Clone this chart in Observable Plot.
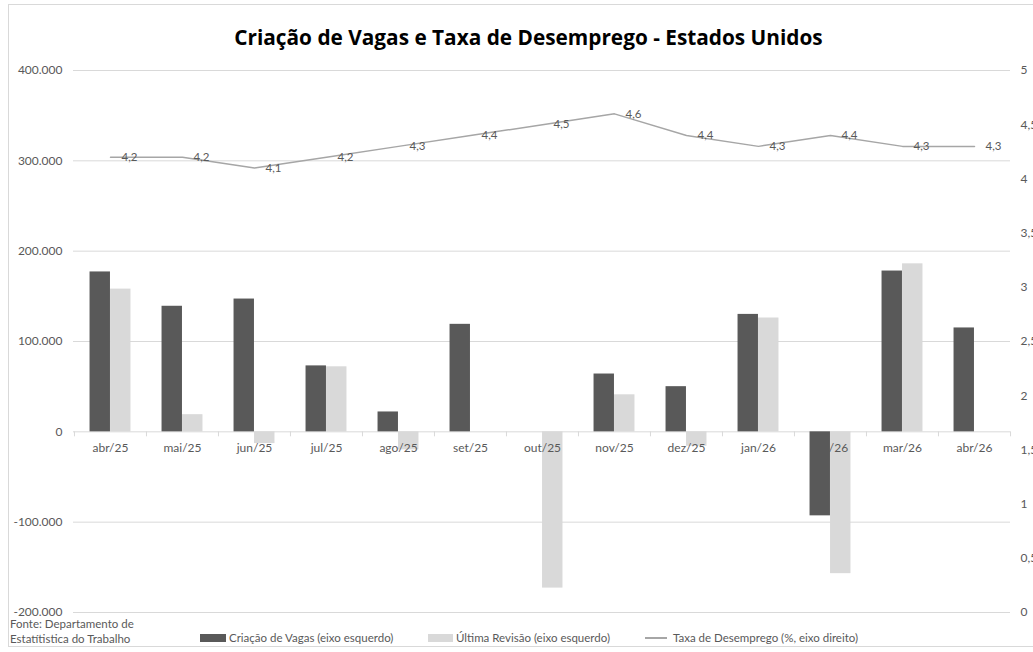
<!DOCTYPE html>
<html><head><meta charset="utf-8">
<script src="https://cdn.jsdelivr.net/npm/d3@7"></script>
<script src="https://cdn.jsdelivr.net/npm/@observablehq/plot@0.6"></script>
<style>
html,body{margin:0;padding:0;overflow:hidden;background:#fff;}
#wrap{position:relative;width:1033px;height:652px;overflow:hidden;font-family:Lato,"Open Sans",sans-serif;color:#595959;}
#border{position:absolute;left:8px;top:4px;width:1040px;height:643px;border:1px solid #d9d9d9;box-sizing:border-box;}
#title{position:absolute;left:12px;top:24px;width:1033px;text-align:center;font-family:"Open Sans",Lato,sans-serif;font-weight:bold;font-size:20.8px;color:#000;line-height:26px;}
#chart{position:absolute;left:0;top:0;}
#source{position:absolute;left:10px;top:616px;font-size:11.5px;line-height:15px;}
.leg{position:absolute;top:630px;font-size:11.5px;line-height:15px;white-space:nowrap;}
.sw{position:absolute;top:634px;height:8px;}
.ln{position:absolute;top:637px;height:1.5px;background:#a6a6a6;}
</style></head><body>
<div id="wrap">
  <div id="border"></div>
  <div id="chart"></div>
  <div id="title">Criação de Vagas e Taxa de Desemprego - Estados Unidos</div>
  <div id="source">Fonte: Departamento de<br>Estatítistica do Trabalho</div>
  <div class="sw" style="left:200px;width:26px;background:#595959"></div>
  <div class="leg" style="left:229px">Criação de Vagas (eixo esquerdo)</div>
  <div class="sw" style="left:428px;width:25px;background:#d9d9d9"></div>
  <div class="leg" style="left:456px">Última Revisão (eixo esquerdo)</div>
  <div class="ln" style="left:645px;width:22px"></div>
  <div class="leg" style="left:673px">Taxa de Desemprego (%, eixo direito)</div>
</div>
<script>
const months = ["abr/25","mai/25","jun/25","jul/25","ago/25","set/25","out/25","nov/25","dez/25","jan/26","fev/26","mar/26","abr/26"];
const criacao = [177000,139000,147000,73000,22000,119000,null,64000,50000,130000,-93000,178000,115000];
const revisao = [158000,19000,-13000,72000,-20000,null,-173000,41000,-16000,126000,-157000,186000,null];
const desemprego = [4.2,4.2,4.1,4.2,4.3,4.4,4.5,4.6,4.4,4.3,4.4,4.3,4.3];
const leftTicks = [-200000,-100000,0,100000,200000,300000,400000];
const rightTicks = [0,0.5,1,1.5,2,2.5,3,3.5,4,4.5,5];

const W = 1033, H = 652, mL = 73, mR = 23, mT = 70, mB = 40;
const bw = (W - mL - mR) / months.length;
const half = 20.5;
const toLeft = u => -200000 + u * 120000;
const fromLeft = v => Math.round(((v + 200000) / 120000) * 10) / 10;
const loc = d3.formatLocale({decimal: ",", thousands: ".", grouping: [3], currency: ["", ""], minus: "-"});
const fmtL = loc.format(",d");
const fmtR = v => String(v).replace(".", ",");
const idx = d3.range(months.length);

const chart = Plot.plot({
  width: W, height: H,
  marginLeft: mL, marginRight: mR, marginTop: mT, marginBottom: mB,
  style: {fontFamily: "Lato, 'Open Sans', sans-serif", fontSize: "12px", color: "#595959", background: "transparent"},
  x: {type: "band", domain: months, paddingInner: 0, paddingOuter: 0, axis: null},
  y: {domain: [-200000, 400000]},
  marks: [
    Plot.gridY(leftTicks, {stroke: "#d9d9d9", strokeOpacity: 1}),
    Plot.ruleX(months, {x: d => d, y1: 0, y2: -5500, dx: -bw / 2, stroke: "#d9d9d9"}),
    Plot.ruleX([months[months.length - 1]], {x: d => d, y1: 0, y2: -5500, dx: bw / 2, stroke: "#d9d9d9"}),
    Plot.barY(idx.filter(i => revisao[i] != null), {x: i => months[i], y: i => revisao[i], fill: "#d9d9d9", insetLeft: bw / 2, insetRight: bw / 2 - half}),
    Plot.text(months, {x: d => d, y: 0, dy: 16, text: d => d, fill: "#595959", fontSize: 12}),
    Plot.barY(idx.filter(i => criacao[i] != null), {x: i => months[i], y: i => criacao[i], fill: "#595959", insetLeft: bw / 2 - half, insetRight: bw / 2}),
    Plot.line(idx, {x: i => months[i], y: i => toLeft(desemprego[i]), stroke: "#a6a6a6", strokeWidth: 1.5}),
    Plot.text(idx, {x: i => months[i], y: i => toLeft(desemprego[i]), text: i => fmtR(desemprego[i]), dx: 19, fill: "#595959", fontSize: 11.5}),
    Plot.axisY(leftTicks, {anchor: "left", tickSize: 0, tickPadding: 11, tickFormat: fmtL, fontSize: 12}),
    Plot.axisY(rightTicks.map(toLeft), {anchor: "right", tickSize: 0, tickPadding: 10, tickFormat: v => fmtR(fromLeft(v)), fontSize: 12})
  ]
});
document.getElementById("chart").appendChild(chart);
</script>
</body></html>
